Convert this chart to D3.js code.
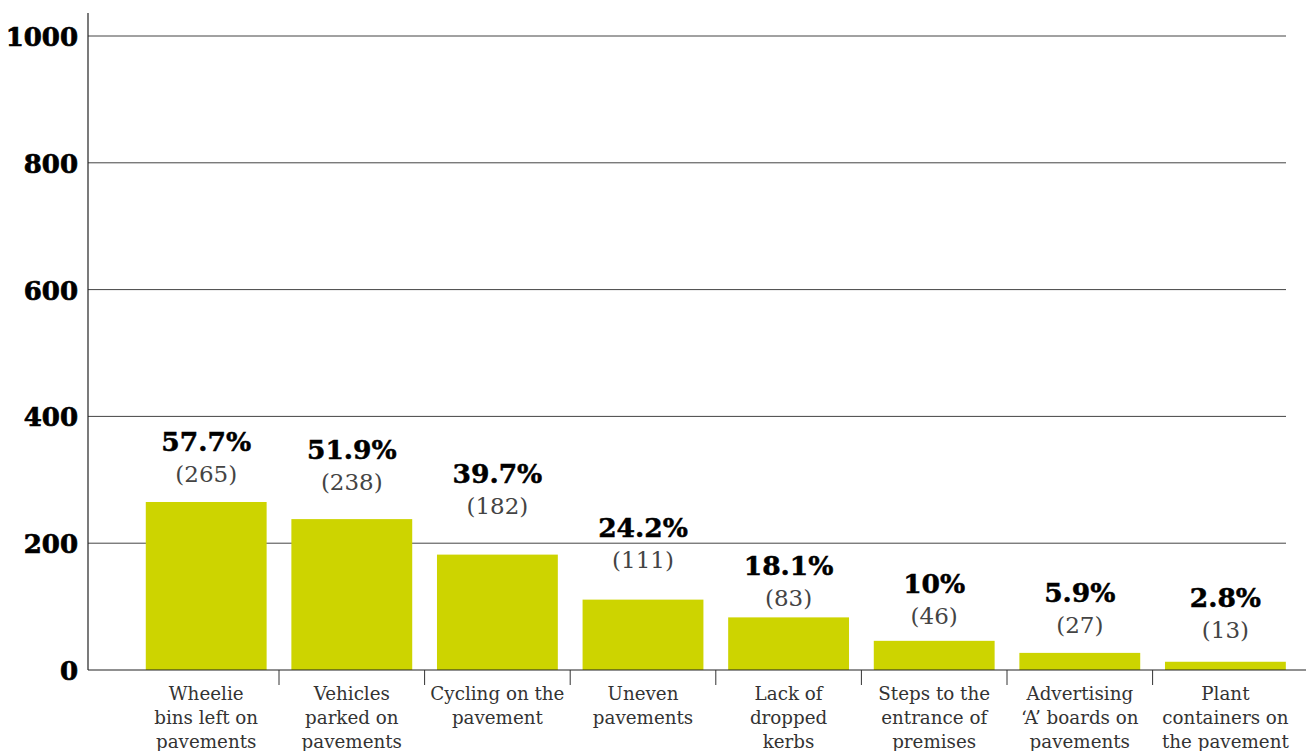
<!DOCTYPE html>
<html><head><meta charset="utf-8">
<script src="https://cdn.jsdelivr.net/npm/d3@7"></script>
<style>body{margin:0;background:#fff}</style>
</head><body><svg id="c" width="1306" height="751"></svg>
<script>
const categories = [
  ["Wheelie","bins left on","pavements"],
  ["Vehicles","parked on","pavements"],
  ["Cycling on the","pavement"],
  ["Uneven","pavements"],
  ["Lack of","dropped","kerbs"],
  ["Steps to the","entrance of","premises"],
  ["Advertising","‘A’ boards on","pavements"],
  ["Plant","containers on","the pavement"]
];
const counts = [265, 238, 182, 111, 83, 46, 27, 13];
const percents = ["57.7%","51.9%","39.7%","24.2%","18.1%","10%","5.9%","2.8%"];
// value level (in axis units) where each annotation sits, as placed in the original
const labelLevels = [345, 333, 295, 210, 150, 121, 107, 99];
const yTicks = [0, 200, 400, 600, 800, 1000];

const svg = d3.select("#c");
const x0 = 88, yTop = 13, gridRight = 1286;
const y = d3.scaleLinear().domain([0, 1000]).range([670, 36]);
const x = d3.scaleBand().domain(d3.range(counts.length)).range([133.4, 1298.2]).paddingInner(0.17).paddingOuter(0.085);

// grid lines
svg.append("g").selectAll("line").data(yTicks.filter(d=>d>0)).join("line")
  .attr("x1", x0).attr("x2", gridRight)
  .attr("y1", d=>y(d)).attr("y2", d=>y(d))
  .attr("stroke", "#444").attr("stroke-width", 1);

// y tick labels
svg.append("g").selectAll("text").data(yTicks).join("text")
  .attr("x", 78).attr("y", d=>y(d)+10)
  .attr("text-anchor","end")
  .attr("font-family","'DejaVu Serif', serif")
  .attr("font-weight","bold").attr("font-size",26)
  .attr("stroke","#000").attr("stroke-width",0.7)
  .attr("fill","#000").text(d=>d);

// bars
svg.append("g").selectAll("rect").data(counts).join("rect")
  .attr("x",(d,i)=>x(i)).attr("width",x.bandwidth())
  .attr("y",d=>y(d)).attr("height",d=>y(0)-y(d))
  .attr("fill","#cdd400");

// y axis line
svg.append("line").attr("x1",x0).attr("x2",x0).attr("y1",yTop).attr("y2",y(0))
  .attr("stroke","#222").attr("stroke-width",1.2);
// x axis line
svg.append("line").attr("x1",x0).attr("x2",1306).attr("y1",y(0)).attr("y2",y(0))
  .attr("stroke","#222").attr("stroke-width",1.2);
// x boundary ticks
const step = x.step();
svg.append("g").selectAll("line").data(d3.range(1, counts.length)).join("line")
  .attr("x1",i=>x(i)-step*0.085).attr("x2",i=>x(i)-step*0.085)
  .attr("y1",y(0)).attr("y2",y(0)+15)
  .attr("stroke","#333").attr("stroke-width",1);

// value labels
const lab = svg.append("g").selectAll("g").data(counts).join("g")
  .attr("transform",(d,i)=>`translate(${x(i)+x.bandwidth()/2},${y(labelLevels[i])})`);
lab.append("text").attr("y",0).attr("text-anchor","middle")
  .attr("font-family","'DejaVu Serif', serif").attr("font-weight","bold").attr("font-size",26.5)
  .attr("stroke","#000").attr("stroke-width",0.5)
  .attr("fill","#000").text((d,i)=>percents[i]);
lab.append("text").attr("y",31).attr("text-anchor","middle")
  .attr("font-family","'DejaVu Serif', serif").attr("font-size",23)
  .attr("fill","#444").text(d=>`(${d})`);

// category labels
const cat = svg.append("g").selectAll("text").data(categories).join("text")
  .attr("text-anchor","middle")
  .attr("font-family","'DejaVu Serif', serif").attr("font-size",18.3)
  .attr("fill","#333");
cat.each(function(lines,i){
  d3.select(this).selectAll("tspan").data(lines).join("tspan")
    .attr("x", x(i)+x.bandwidth()/2)
    .attr("y",(l,j)=>700+j*24).text(l=>l);
});
</script></body></html>
